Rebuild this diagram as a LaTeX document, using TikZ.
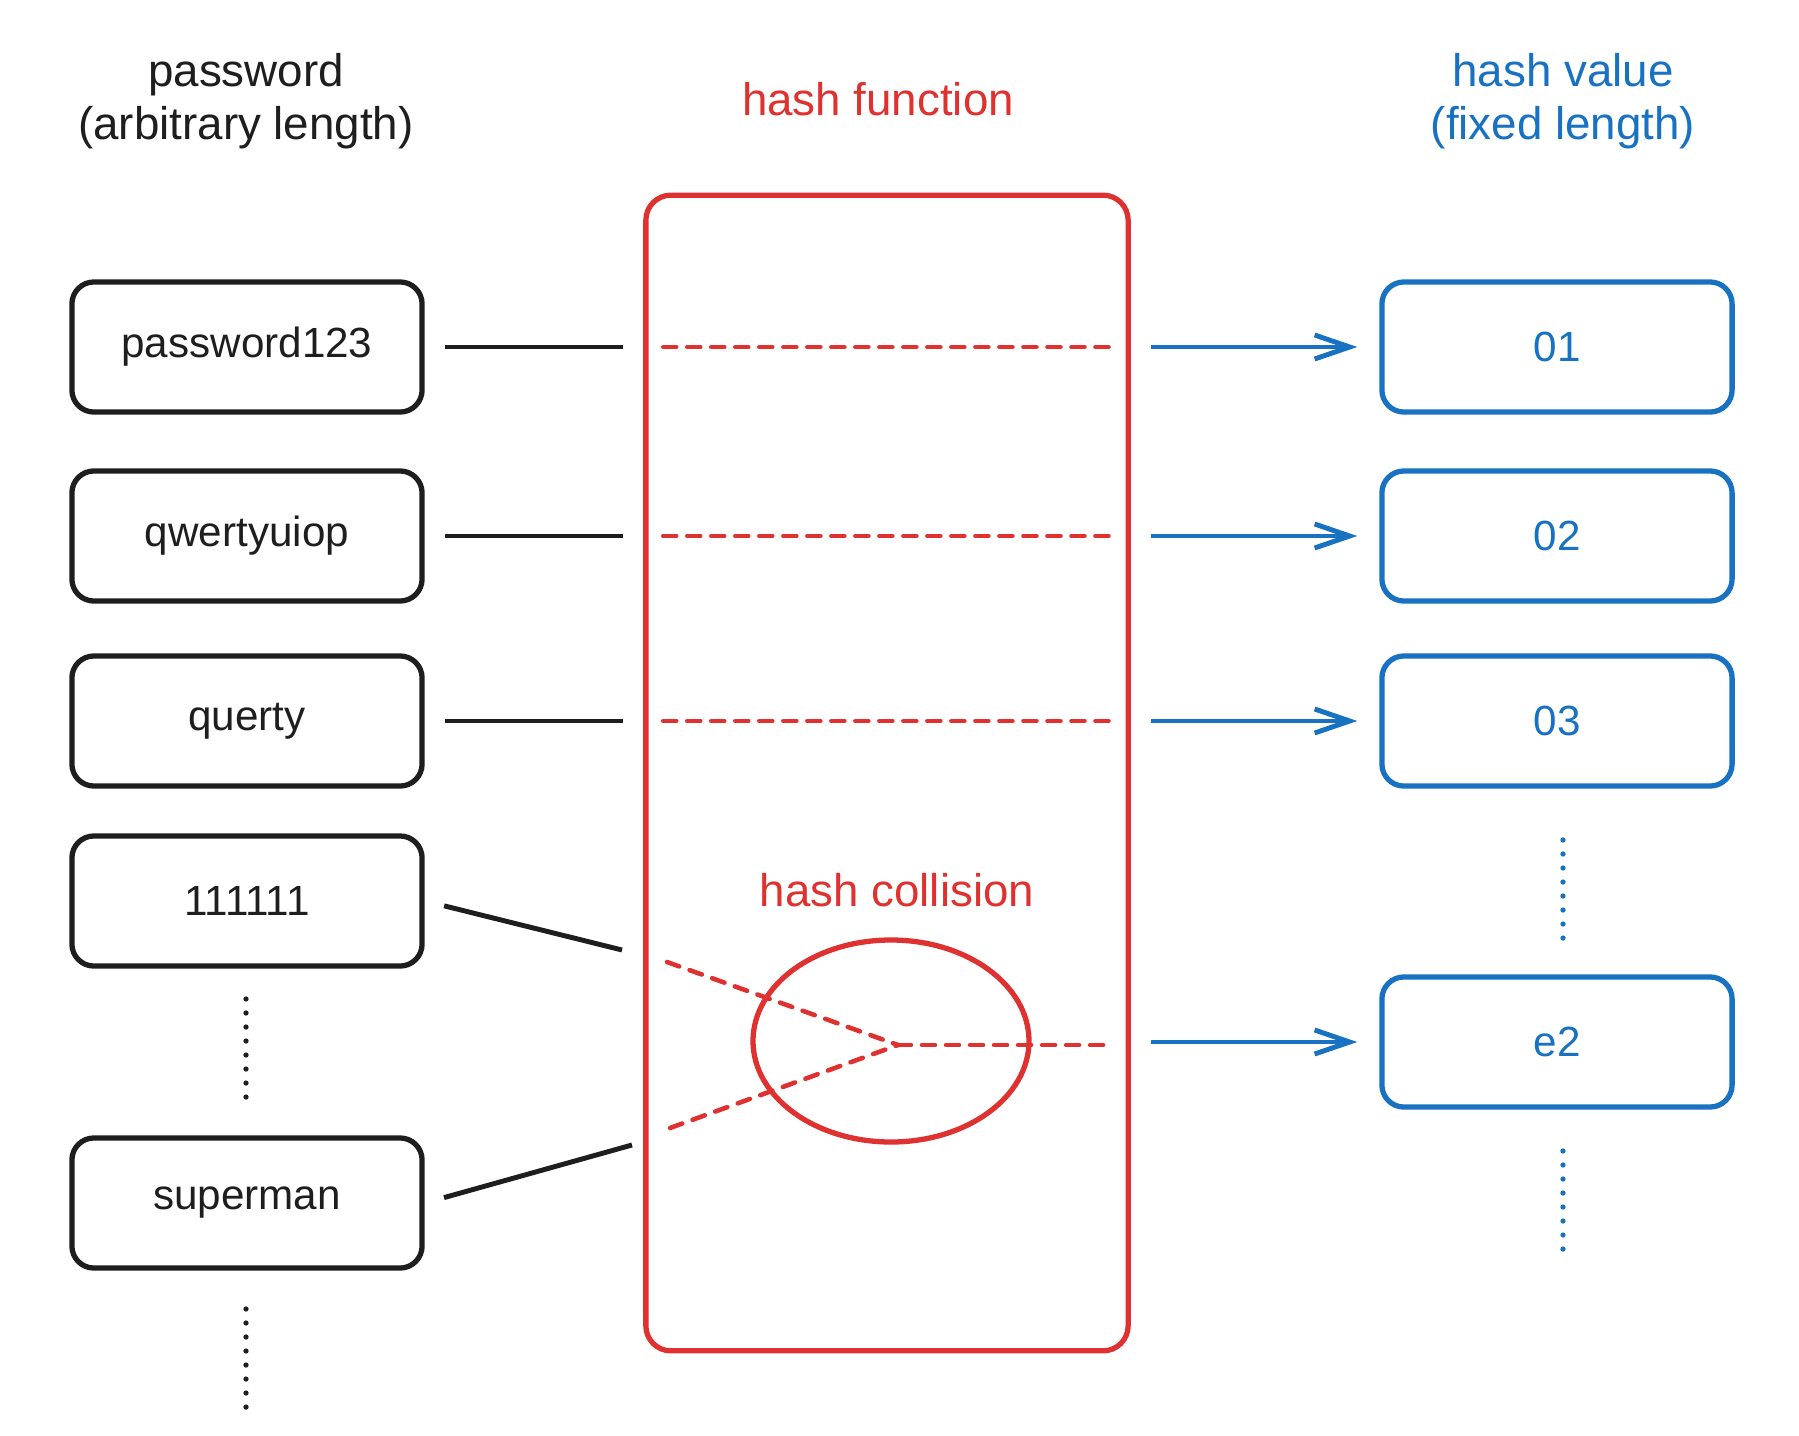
\documentclass[tikz,border=0pt]{standalone}
\usepackage{fontspec}
\setmainfont{Liberation Sans}
\usetikzlibrary{arrows.meta}
\definecolor{ink}{HTML}{1E1E1E}
\definecolor{hred}{HTML}{E03131}
\definecolor{hblue}{HTML}{1971C2}
\tikzset{
  box/.style={draw, rounded corners=0.22cm, line width=1.5pt, minimum width=3.5cm, minimum height=1.3cm, font=\fontsize{12pt}{15pt}\selectfont},
  pwbox/.style={box, ink, text=ink},
  hvbox/.style={box, hblue, text=hblue},
  link/.style={ink, line width=1.4pt, shorten <=0.2cm, shorten >=0.2cm},
  redline/.style={hred, line width=1.3pt, line cap=round, dash pattern=on 0.13cm off 0.11cm},
  hvarrow/.style={hblue, line width=1.4pt, shorten <=0.2cm, shorten >=0.22cm, -{Straight Barb[length=0.35cm,width=0.24cm,line width=1.4pt]}},
  dots/.style={line width=1.5pt, line cap=round, dash pattern=on 0pt off 0.14cm},
  label/.style={align=center, font=\fontsize{13pt}{15pt}\selectfont}
}
\begin{document}
\begin{tikzpicture}[x=0.01cm, y=-0.01cm]
\useasboundingbox (0,0) rectangle (1799,1436);
% headers
\node[label, ink] (t0) at (246,101) {password\\(arbitrary length)};
\node[label, hred] (t1) at (878,99) {hash function};
\node[label, hblue] (t2) at (1563,101) {hash value\\(fixed length)};
% hash function
\node[draw, hred, rounded corners=0.25cm, line width=1.5pt, minimum width=4.82cm, minimum height=11.55cm] (hf) at (887,773) {};
\node[label, hred] (t3) at (897,890) {hash collision};
\draw[hred, line width=1.5pt] (891,1041) ellipse [x radius=138, y radius=101];
% passwords
\node[pwbox] (pw1) at (247,347) {password123};
\node[pwbox] (pw2) at (247,536) {qwertyuiop};
\node[pwbox] (pw3) at (247,721) {querty};
\node[pwbox] (pw4) at (247,901) {111111};
\node[pwbox] (pw5) at (247,1203) {superman};
% hash values
\node[hvbox] (hv1) at (1557,347) {01};
\node[hvbox] (hv2) at (1557,536) {02};
\node[hvbox] (hv3) at (1557,721) {03};
\node[hvbox] (hv4) at (1557,1042) {e2};
% collision points
\coordinate (c0) at (898,1045);
\coordinate (c1) at (622,950);
\coordinate (c2) at (632,1145);
\coordinate (c3) at (667,962);
\coordinate (c4) at (670,1128);
% links
\draw[link] (pw1.east) -- (pw1.east -| hf.west);
\draw[link] (pw2.east) -- (pw2.east -| hf.west);
\draw[link] (pw3.east) -- (pw3.east -| hf.west);
\draw[link, shorten >=0pt] (pw4.east) -- (c1);
\draw[link, shorten >=0pt] (pw5.east) -- (c2);
\draw[redline, shorten <=0.2cm, shorten >=0.2cm] (pw1.east -| hf.west) -- (pw1.east -| hf.east);
\draw[redline, shorten <=0.2cm, shorten >=0.2cm] (pw2.east -| hf.west) -- (pw2.east -| hf.east);
\draw[redline, shorten <=0.2cm, shorten >=0.2cm] (pw3.east -| hf.west) -- (pw3.east -| hf.east);
\draw[redline] (c3) -- (c0);
\draw[redline] (c4) -- (c0);
\draw[redline, shorten >=0.2cm] (c0) -- (c0 -| hf.east);
\draw[hvarrow] (hv1.west -| hf.east) -- (hv1.west);
\draw[hvarrow] (hv2.west -| hf.east) -- (hv2.west);
\draw[hvarrow] (hv3.west -| hf.east) -- (hv3.west);
\draw[hvarrow] (hv4.west -| hf.east) -- (hv4.west);
% more
\draw[dots, ink] (246,999) -- (246,1109);
\draw[dots, ink] (246,1309) -- (246,1421);
\draw[dots, hblue] (1563,840) -- (1563,951);
\draw[dots, hblue] (1563,1151) -- (1563,1263);
\end{tikzpicture}
\end{document}
